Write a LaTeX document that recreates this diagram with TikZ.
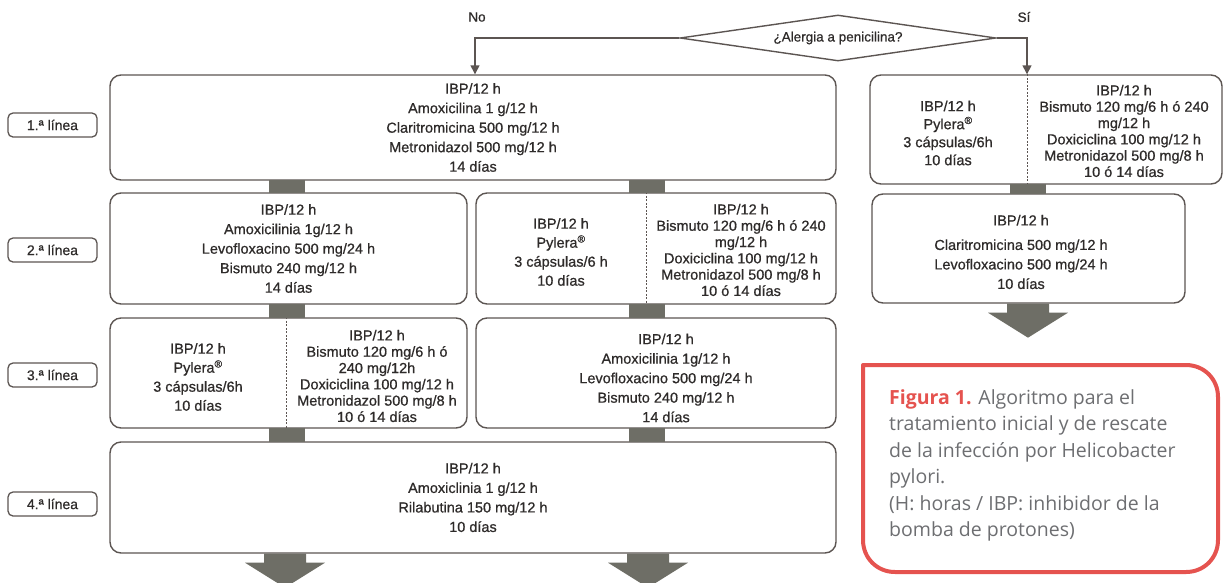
\documentclass[tikz,border=0pt]{standalone}
\usepackage{fontspec}
\setmainfont{Liberation Sans}
\newfontfamily\chartfont{Liberation Sans}[FakeBold=0.7]
\newfontfamily\captionfont{Open Sans}
\usetikzlibrary{arrows.meta,shapes.geometric,calc}
\definecolor{framegray}{HTML}{5C5552}
\definecolor{bargray}{HTML}{6E6E66}
\definecolor{inkgray}{HTML}{2E2B2A}
\definecolor{capred}{HTML}{E5534F}
\definecolor{captext}{HTML}{6D6E71}
\newcommand{\blockarrow}[1]{\fill[bar] (#1) ++(-21,0) -- ++(42,0) -- ++(0,9) -- ++(19,0) -- ++(-40,25) -- ++(-40,-25) -- ++(19,0) -- cycle;}

\begin{document}
\begin{tikzpicture}[x = 1pt, y = -1pt,
    box/.style = {draw = framegray, line width = 1.4pt, rounded corners = 11pt, fill = white, align = center, text = inkgray, font = \chartfont\fontsize{14.5}{19.5}\selectfont},
    tag/.style = {draw = framegray, line width = 1.3pt, rounded corners = 5pt, minimum width = 89, minimum height = 24, inner sep = 0, text = inkgray, font = \chartfont\fontsize{14}{15}\selectfont},
    txt/.style = {align = center, inner sep = 0, text = inkgray, font = \chartfont\fontsize{14.5}{19}\selectfont},
    tight/.style = {txt, font = \chartfont\fontsize{14.5}{16.3}\selectfont},
    bar/.style = {fill = bargray},
    divider/.style = {draw = framegray, line width = 1pt, dash pattern = on 2pt off 1.5pt},
    flow/.style = {draw = framegray, line width = 1.4pt, -{Triangle[width = 9pt, length = 9pt]}},
    decision/.style = {diamond, aspect = 6.9, draw = framegray, line width = 1.4pt, minimum width = 316, minimum height = 46, inner sep = 0, text = inkgray, font = \chartfont\fontsize{13.5}{15}\selectfont}]

	\useasboundingbox (0, 0) rectangle (1232, 582);

	% question
	\node[decision] (allergy) at (838, 38) {¿Alergia a penicilina?};
	\node[txt, font = \chartfont\fontsize{13.5}{15}\selectfont] (no) at (477, 17) {No};
	\node[txt, font = \chartfont\fontsize{13.5}{15}\selectfont] (si) at (1024, 17) {Sí};

	% line tags
	\node[tag] (tag1) at (52.5, 125) {1.ª línea};
	\node[tag] (tag2) at (52.5, 250) {2.ª línea};
	\node[tag] (tag3) at (52.5, 375) {3.ª línea};
	\node[tag] (tag4) at (52.5, 504) {4.ª línea};

	% no allergy
	\node[box, minimum width = 726, minimum height = 105] (box1) at (473, 127.5) {IBP/12 h\\Amoxicilina 1 g/12 h\\Claritromicina 500 mg/12 h\\Metronidazol 500 mg/12 h\\14 días};
	\node[box, minimum width = 357, minimum height = 111] (box2l) at (288.5, 248.5) {IBP/12 h\\Amoxicilinia 1g/12 h\\Levofloxacino 500 mg/24 h\\Bismuto 240 mg/12 h\\14 días};
	\node[box, minimum width = 360, minimum height = 111] (box2r) at (656, 248.5) {};
	\node[txt] (t2a) at (561, 252) {IBP/12 h\\Pylera\textsuperscript{®}\\3 cápsulas/6 h\\10 días};
	\node[tight] (t2b) at (741, 250) {IBP/12 h\\Bismuto 120 mg/6 h ó 240\\mg/12 h\\Doxiciclina 100 mg/12 h\\Metronidazol 500 mg/8 h\\10 ó 14 días};
	\node[box, minimum width = 357, minimum height = 110] (box3l) at (288.5, 373) {};
	\node[txt] (t3a) at (198, 377) {IBP/12 h\\Pylera\textsuperscript{®}\\3 cápsulas/6h\\10 días};
	\node[tight] (t3b) at (377, 376) {IBP/12 h\\Bismuto 120 mg/6 h ó\\240 mg/12h\\Doxiciclina 100 mg/12 h\\Metronidazol 500 mg/8 h\\10 ó 14 días};
	\node[box, minimum width = 360, minimum height = 110] (box3r) at (656, 373) {};
	\node[txt, font = \chartfont\fontsize{14.5}{19.5}\selectfont] (t3r) at (666, 378) {IBP/12 h\\Amoxicilinia 1g/12 h\\Levofloxacino 500 mg/24 h\\Bismuto 240 mg/12 h\\14 días};
	\node[box, minimum width = 726, minimum height = 111] (box4) at (473, 497.5) {IBP/12 h\\Amoxiclinia 1 g/12 h\\Rilabutina 150 mg/12 h\\10 días};

	% allergy
	\node[box, minimum width = 352, minimum height = 109] (boxR1) at (1046, 129.5) {};
	\node[txt, font = \chartfont\fontsize{14.5}{18}\selectfont] (tR1a) at (948, 133) {IBP/12 h\\Pylera\textsuperscript{®}\\3 cápsulas/6h\\10 días};
	\node[tight] (tR1b) at (1124, 131) {IBP/12 h\\Bismuto 120 mg/6 h ó 240\\mg/12 h\\Doxiciclina 100 mg/12 h\\Metronidazol 500 mg/8 h\\10 ó 14 días};
	\node[box, minimum width = 313, minimum height = 109] (boxR2) at (1028.5, 248.5) {};
	\node[txt, font = \chartfont\fontsize{14.5}{19.5}\selectfont] (tR2) at (1021, 252) {IBP/12 h\\[5pt]Claritromicina 500 mg/12 h\\Levofloxacino 500 mg/24 h\\10 días};

	% split lines
	\draw[divider] (box2r.north -| 646, 0) -- (box2r.south -| 646, 0);
	\draw[divider] (box3l.north -| 286, 0) -- (box3l.south -| 286, 0);
	\draw[divider] (boxR1.north -| 1027, 0) -- (boxR1.south -| 1027, 0);

	\draw[flow] (allergy.west) -| (box1.north -| 475, 0);
	\draw[flow] (allergy.east) -| (boxR1.north -| 1027, 0);

	\foreach \from/\to/\x in {box1/box2l/287, box1/box2r/647, box2l/box3l/287, box2r/box3r/647, box3l/box4/287, box3r/box4/647, boxR1/boxR2/1028}
		\fill[bar] ($(\from.south -| \x, 0) + (-18, -0.7)$) rectangle ($(\to.north -| \x, 0) + (18, 0.7)$);

	\blockarrow{box4.south -| 285, 0}
	\blockarrow{box4.south -| 648, 0}
	\blockarrow{boxR2.south -| 1028, 0}

	% caption
	\draw[draw = capred, line width = 4pt, line join = round] (863, 365) -- (1186, 365) .. controls (1204, 365) and (1218, 379) .. (1218, 397) -- (1218, 540) .. controls (1218, 558) and (1204, 572) .. (1186, 572) -- (895, 572) .. controls (877, 572) and (863, 558) .. (863, 540) -- cycle;
	\node[anchor = north west, align = left, inner sep = 0, text = captext, font = \captionfont\fontsize{19.5}{26.5}\selectfont] (caption) at (889, 389) {{\color{capred}\bfseries Figura 1.} Algoritmo para el\\tratamiento inicial y de rescate\\de la infección por Helicobacter\\pylori.\\(H: horas / IBP: inhibidor de la\\bomba de protones)};
\end{tikzpicture}
\end{document}
